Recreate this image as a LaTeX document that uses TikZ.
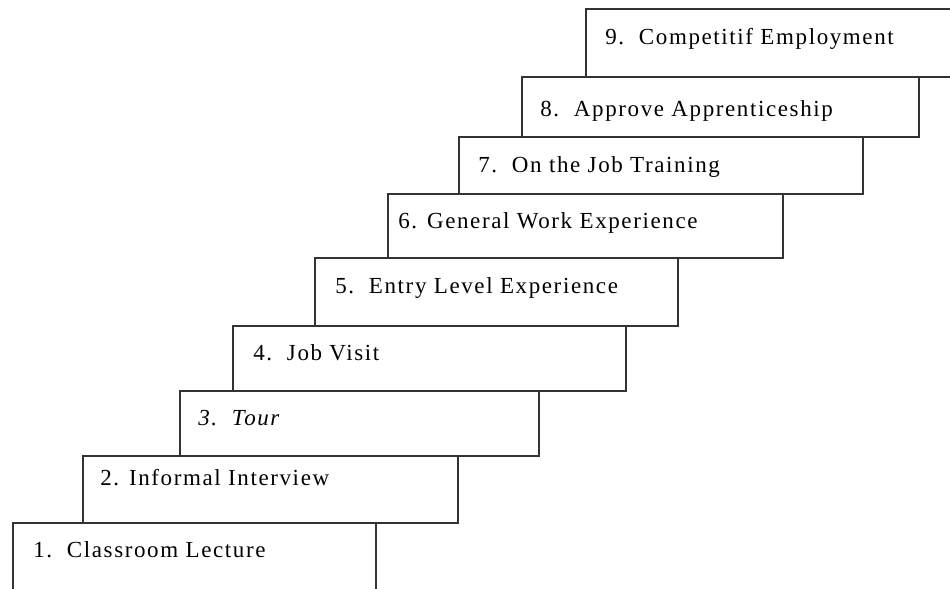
\documentclass[tikz,border=0pt]{standalone}
\usepackage{fontspec}
\setmainfont{Liberation Serif}[LetterSpace=7]
\usepackage{tikz}
\usetikzlibrary{positioning}
\usepackage{xcolor}
\definecolor{cLine}{HTML}{333333}

\begin{document}
\begin{tikzpicture}[
  x=0.5pt, y=-0.5pt,
  stairbox/.style 2 args={rectangle, draw=cLine, fill=white, line width=0.75pt,
               anchor=north west, inner sep=0pt,
               minimum width=#1*0.5pt, minimum height=#2*0.5pt},
  stairtext/.style={anchor=base west, inner sep=0pt, font=\fontsize{11.5}{13}\selectfont},
]
\clip (0,0) rectangle (950,589);
% boxes, top step first so the lower ones sit over it
\node[stairbox={440}{68}]  (s9) at (585,8)   {};
\node[stairbox={397}{60}]  (s8) at (521,76)  {};
\node[stairbox={404}{57}]  (s7) at (458,136) {};
\node[stairbox={395}{64}]  (s6) at (387,193) {};
\node[stairbox={363}{68}]  (s5) at (314,257) {};
\node[stairbox={393}{65}]  (s4) at (232,325) {};
\node[stairbox={359}{65}]  (s3) at (179,390) {};
\node[stairbox={375}{67}]  (s2) at (82,455)  {};
\node[stairbox={363}{100}] (s1) at (12,522)  {};
% labels
\node[stairtext] (t9) at (605,45)  {9.~~Competitif Employment};
\node[stairtext] (t8) at (540,117) {8.~~Approve Apprenticeship};
\node[stairtext] (t7) at (478,172) {7.~~On the Job Training};
\node[stairtext] (t6) at (398,228) {6. General Work Experience};
\node[stairtext] (t5) at (335,293) {5.~~Entry Level Experience};
\node[stairtext] (t4) at (253,360) {4.~~Job Visit};
\node[stairtext] (t3) at (198,425) {\itshape 3.~~Tour};
\node[stairtext] (t2) at (100,485) {2. Informal Interview};
\node[stairtext] (t1) at (33,557)  {1.~~Classroom Lecture};
\end{tikzpicture}
\end{document}
